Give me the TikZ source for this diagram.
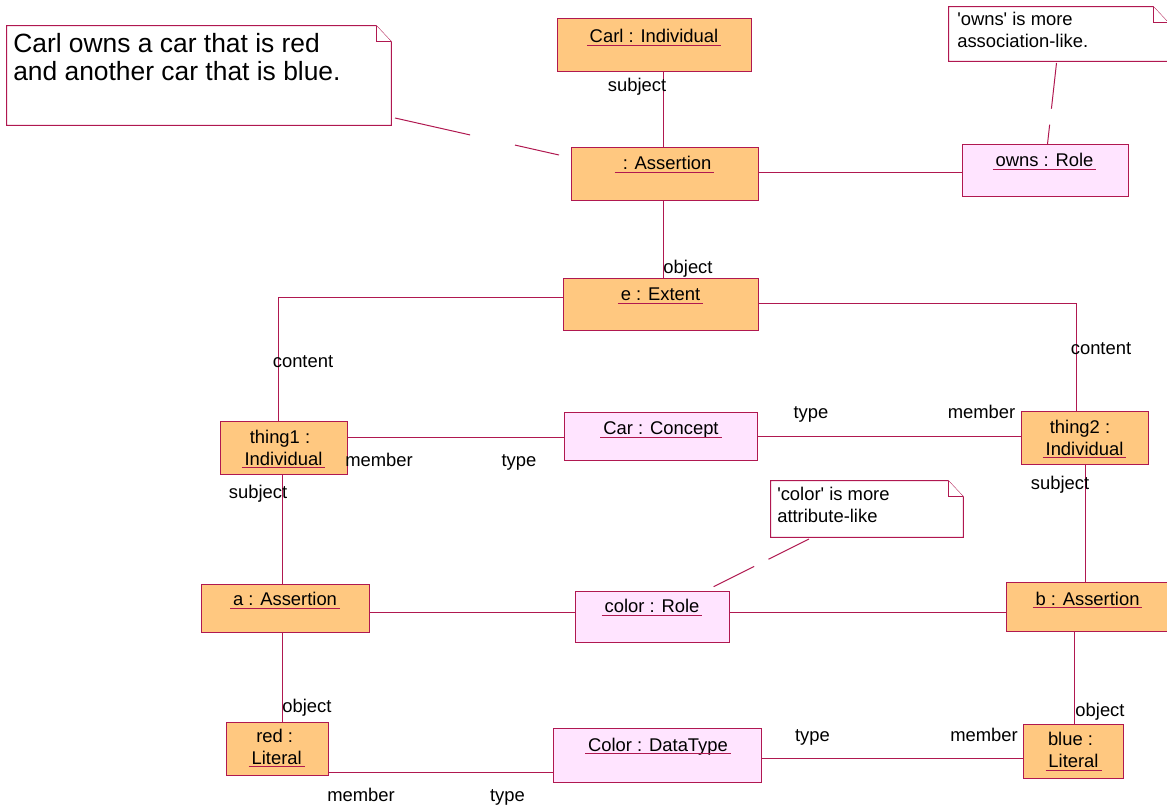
\documentclass[tikz,border=0pt]{standalone}
\usepackage{fontspec}
\setmainfont{Liberation Sans}
\definecolor{edge}{RGB}{176,24,80}
\definecolor{orangefill}{RGB}{255,200,128}
\definecolor{pinkfill}{RGB}{255,228,255}
\newcommand\notefold[1]{%
  \draw[foldline] (#1.north west) -- ([xshift=-11.25pt]#1.north east) -- ([yshift=-12pt]#1.north east) -- (#1.south east) -- (#1.south west) -- cycle;
  \draw[foldline] ([xshift=-11.25pt]#1.north east) -- ([xshift=-11.25pt,yshift=-12pt]#1.north east) -- ([yshift=-12pt]#1.north east);}
\newcommand\ulin[1]{\draw[ulstyle] ([yshift=-1.9pt]#1.base west) -- ([yshift=-1.9pt]#1.base east);}
\begin{document}
\begin{tikzpicture}[x=0.75pt,y=-0.75pt,
  obox/.style 2 args={draw=edge, fill=orangefill, line width=0.75pt, inner sep=0pt, minimum width=#1*0.75pt, minimum height=#2*0.75pt},
  pbox/.style 2 args={draw=edge, fill=pinkfill, line width=0.75pt, inner sep=0pt, minimum width=#1*0.75pt, minimum height=#2*0.75pt},
  notebox/.style 2 args={inner sep=0pt, minimum width=#1*0.75pt, minimum height=#2*0.75pt},
  foldline/.style={draw=edge, fill=white, line width=0.75pt, line join=miter},
  txt/.style={font=\fontsize{13.8}{16}\selectfont, inner xsep=2pt, inner ysep=0pt, anchor=base, text=black},
  lbl/.style={font=\fontsize{13.8}{16}\selectfont, inner sep=0pt, anchor=base, text=black},
  ntxt/.style={font=\fontsize{13.8}{16}\selectfont, inner sep=0pt, anchor=base west, text=black},
  bigtxt/.style={font=\fontsize{19.8}{24}\selectfont, inner sep=0pt, anchor=base west, text=black},
  conn/.style={draw=edge, line width=0.75pt},
  ulstyle/.style={draw=edge, line width=0.6pt}
]
\useasboundingbox (0,0) rectangle (1167,809);
\clip (0,0) rectangle (1167,809);

% helper coordinates for connector lines
\coordinate (v663) at (663,0);
\coordinate (v278) at (278,0);
\coordinate (v1076) at (1076,0);
\coordinate (v282) at (282,0);
\coordinate (v1085) at (1085,0);
\coordinate (v1074) at (1074,0);
\coordinate (h173) at (0,173);
\coordinate (h298) at (0,298);
\coordinate (h304) at (0,304);
\coordinate (h437) at (0,437);
\coordinate (h436) at (0,436);
\coordinate (h612) at (0,612);
\coordinate (h772) at (0,772);
\coordinate (h758) at (0,758);

% ---------- notes ----------
\node[notebox={384}{99}] (bignote) at (199,75.5) {};
\notefold{bignote}
\node[bigtxt] (bn1) at (13,52.3) {Carl owns a car that is red};
\node[bigtxt] (bn2) at (13,81) {and another car that is blue.};

\node[notebox={219}{54}] (ownsnote) at (1058.5,34) {};
\notefold{ownsnote}
\node[ntxt] (on1) at (957,26) {\textquotesingle owns\textquotesingle\ is more};
\node[ntxt] (on2) at (957,48) {association-like.};

\node[notebox={192}{56}] (colornote) at (867,509) {};
\notefold{colornote}
\node[ntxt] (cn1) at (777,500.7) {\textquotesingle color\textquotesingle\ is more};
\node[ntxt] (cn2) at (777,522.7) {attribute-like};

% ---------- boxes ----------
\node[obox={194}{53}] (carl) at (654,45.5) {};
\node[obox={187}{53}] (assert0) at (664.5,174.5) {};
\node[pbox={166}{52}] (owns) at (1045,171) {};
\node[obox={195}{51}] (extent) at (660.5,304.5) {};
\node[obox={127}{53}] (thing1) at (283.5,447.5) {};
\node[pbox={193}{48}] (car) at (660.5,436) {};
\node[obox={127}{53}] (thing2) at (1084.5,437.5) {};
\node[obox={168}{48}] (a) at (285,608) {};
\node[pbox={154}{51}] (color) at (652,616.5) {};
\node[obox={168}{49}] (b) at (1090,606.5) {};
\node[obox={102}{53}] (red) at (277,748.5) {};
\node[pbox={208}{54}] (colordt) at (657,755) {};
\node[obox={100}{54}] (blue) at (1073,751) {};

% ---------- connectors ----------
\draw[conn] (carl.south -| v663) -- (assert0.north -| v663);
\draw[conn] (assert0.east |- h173) -- (owns.west |- h173);
\draw[conn] (assert0.south -| v663) -- (extent.north -| v663);
\draw[conn] (extent.west |- h298) -| (thing1.north -| v278);
\draw[conn] (extent.east |- h304) -| (thing2.north -| v1076);
\draw[conn] (thing1.east |- h437) -- (car.west |- h437);
\draw[conn] (car.east |- h436) -- (thing2.west |- h436);
\draw[conn] (thing1.south -| v282) -- (a.north -| v282);
\draw[conn] (thing2.south -| v1085) -- (b.north -| v1085);
\draw[conn] (a.east |- h612) -- (color.west |- h612);
\draw[conn] (color.east |- h612) -- (b.west |- h612);
\draw[conn] (a.south -| v282) -- (red.north -| v282);
\draw[conn] (b.south -| v1074) -- (blue.north -| v1074);
\draw[conn] (red.east |- h772) -- (colordt.west |- h772);
\draw[conn] (colordt.east |- h758) -- (blue.west |- h758);

% dashed note anchors
\coordinate (bnA) at (395,118);
\coordinate (bnB) at (559,155);
\coordinate (onA) at (1056.5,63);
\coordinate (onB) at (1047.5,144);
\coordinate (cnA) at (809,539);
\coordinate (cnB) at (713,587);
\draw[conn, dash pattern=on 57.75pt off 34.5pt] (bnA) -- (bnB);
\draw[conn, dash pattern=on 34.5pt off 12pt] (onA) -- (onB);
\draw[conn, dash pattern=on 34pt off 12pt] (cnA) -- (cnB);

% ---------- box texts ----------
\node[txt] (carlT) at (654,42.7) {Carl : Individual};
\node[txt] (assert0T) at (664.5,170) {\ : Assertion};
\node[txt] (ownsT) at (1044.5,166.7) {owns : Role};
\node[txt] (extentT) at (660.5,300.7) {e : Extent};
\node[txt] (thing1A) at (280,443) {thing1 :};
\node[txt] (thing1T) at (283.5,465) {Individual};
\node[txt] (carT) at (661,434.5) {Car : Concept};
\node[txt] (thing2A) at (1080,433) {thing2 :};
\node[txt] (thing2T) at (1084.5,455) {Individual};
\node[txt] (aT) at (285,605.7) {a : Assertion};
\node[txt] (colorT) at (652,612.7) {color : Role};
\node[txt] (bT) at (1087.5,605) {b : Assertion};
\node[txt] (redA) at (274.7,742.3) {red :};
\node[txt] (redT) at (276.7,764) {Literal};
\node[txt] (colordtT) at (658,751) {Color : DataType};
\node[txt] (blueA) at (1070.5,745) {blue :};
\node[txt] (blueT) at (1073.5,767.7) {Literal};

\ulin{carlT}
\ulin{assert0T}
\ulin{ownsT}
\ulin{extentT}
\ulin{thing1T}
\ulin{carT}
\ulin{thing2T}
\ulin{aT}
\ulin{colorT}
\ulin{bT}
\ulin{redT}
\ulin{colordtT}
\ulin{blueT}

% ---------- connector labels ----------
\node[lbl] (l1) at (637,91.5) {subject};
\node[lbl] (l2) at (688,274) {object};
\node[lbl] (l3) at (303,367.3) {content};
\node[lbl] (l4) at (1101,354) {content};
\node[lbl] (l5) at (379,466.7) {member};
\node[lbl] (l6) at (519,466.7) {type};
\node[lbl] (l7) at (811,418.3) {type};
\node[lbl] (l8) at (981.5,418.3) {member};
\node[lbl] (l9) at (258,498.3) {subject};
\node[lbl] (l10) at (1060,489.3) {subject};
\node[lbl] (l11) at (307,712.7) {object};
\node[lbl] (l12) at (1100,716) {object};
\node[lbl] (l13) at (361,801.7) {member};
\node[lbl] (l14) at (507.5,801.7) {type};
\node[lbl] (l15) at (812.5,741) {type};
\node[lbl] (l16) at (984,741) {member};
\end{tikzpicture}
\end{document}
